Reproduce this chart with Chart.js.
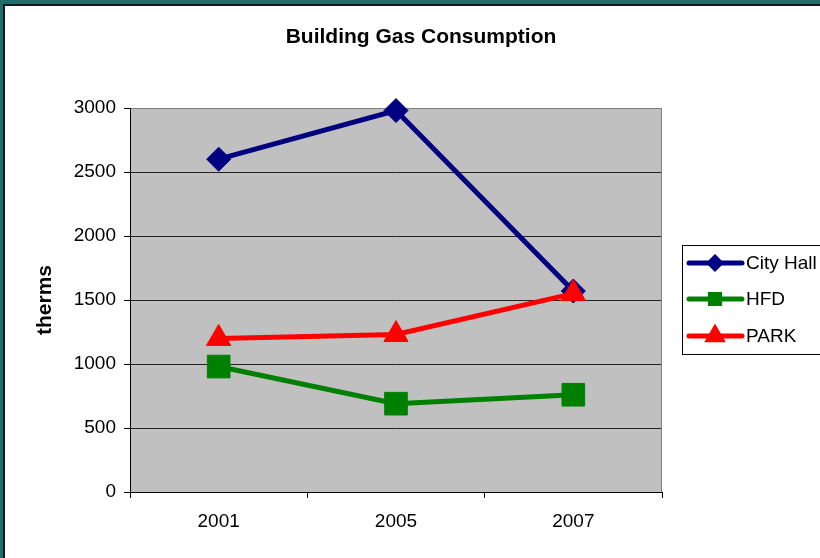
<!DOCTYPE html>
<html>
<head>
<meta charset="utf-8">
<title>Building Gas Consumption</title>
<script src="https://cdn.jsdelivr.net/npm/chart.js@4.4.0/dist/chart.umd.min.js"></script>
<style>
  html, body { margin: 0; padding: 0; background: #fff; }
  #frame { position: relative; width: 820px; height: 558px; background: #1f6e6b; overflow: hidden; }
  #paper { position: absolute; left: 3px; top: 4px; right: -10px; bottom: -10px;
           background: #fff; border-left: 2px solid #0b1a1a; border-top: 2px solid #0b1a1a; }
  #chart { position: absolute; left: 0; top: 0; }
</style>
</head>
<body>
<div id="frame">
  <div id="paper"></div>
  <canvas id="chart" width="820" height="558"></canvas>
</div>
<script>
// Chart data
const chartTitle = 'Building Gas Consumption';
const years = ['2001', '2005', '2007'];
const cityHall = [2600, 2980, 1570];
const hfd = [980, 690, 760];
const park = [1200, 1230, 1550];

const yMin = 0;
const yMax = 3000;
const yStep = 500;

const FONT = "'Liberation Sans', Arial, sans-serif";
Chart.defaults.font.family = FONT;
Chart.defaults.color = '#000';

/**
 * Gray plot background plus the thin gray frame on the right
 */
const plotBackground = {
  id: 'plotBackground',
  beforeDraw(chart) {
    const { ctx, chartArea: a } = chart;
    ctx.save();
    ctx.fillStyle = '#c0c0c0';
    ctx.fillRect(a.left, a.top, a.right - a.left, a.bottom - a.top);
    ctx.restore();
  },
  beforeDatasetsDraw(chart) {
    const { ctx, chartArea: a } = chart;
    ctx.save();
    ctx.strokeStyle = '#808080';
    ctx.lineWidth = 1;
    ctx.beginPath();
    ctx.moveTo(Math.round(a.right) - 0.5, a.top);
    ctx.lineTo(Math.round(a.right) - 0.5, a.bottom);
    ctx.stroke();
    ctx.restore();
  }
};

/**
 * Title centred on the whole page (Chart.js centres it on the padded box)
 */
const pageTitle = {
  id: 'pageTitle',
  afterDraw(chart) {
    const ctx = chart.ctx;
    ctx.save();
    ctx.fillStyle = '#000';
    ctx.font = 'bold 21px ' + FONT;
    ctx.textAlign = 'center';
    ctx.textBaseline = 'middle';
    ctx.fillText(chartTitle, 421, 37);
    ctx.restore();
  }
};

/**
 * Boxed legend with line samples, like the spreadsheet one
 */
const boxLegend = {
  id: 'boxLegend',
  afterDraw(chart) {
    const { ctx, chartArea: a } = chart;
    const left = Math.round(a.right) + 20;
    const top = 245;
    const rowY = [263, 299, 336];
    const markerSize = { rectRot: 5.5, rect: 6.5, triangle: 7.5 };

    ctx.save();
    ctx.strokeStyle = '#000';
    ctx.lineWidth = 1;
    ctx.strokeRect(left + 0.5, top + 0.5, 160, 109);

    chart.data.datasets.forEach((ds, i) => {
      const y = rowY[i];
      ctx.strokeStyle = ds.borderColor;
      ctx.lineWidth = 5;
      ctx.lineCap = 'round';
      ctx.beginPath();
      ctx.moveTo(left + 7, y);
      ctx.lineTo(left + 60, y);
      ctx.stroke();

      ctx.fillStyle = ds.pointBackgroundColor;
      ctx.strokeStyle = ds.pointBorderColor;
      Chart.helpers.drawPoint(ctx, {
        pointStyle: ds.pointStyle,
        radius: markerSize[ds.pointStyle],
        rotation: 0,
        borderWidth: 1
      }, left + 33, y);

      ctx.fillStyle = '#000';
      ctx.font = '19px ' + FONT;
      ctx.textBaseline = 'middle';
      ctx.textAlign = 'left';
      ctx.fillText(ds.label, left + 64, y + 1);
    });
    ctx.restore();
  }
};

function series(label, data, color, style, radius, order) {
  return {
    label: label,
    data: data,
    order: order,
    borderColor: color,
    backgroundColor: color,
    borderWidth: 5,
    tension: 0,
    fill: false,
    clip: false,
    pointStyle: style,
    pointRadius: radius,
    pointHoverRadius: radius,
    pointBackgroundColor: color,
    pointBorderColor: color,
    pointBorderWidth: 1
  };
}

const ctx = document.getElementById('chart').getContext('2d');
new Chart(ctx, {
  type: 'line',
  data: {
    labels: years,
    datasets: [
      // later series sit on top, as in the spreadsheet
      series('City Hall', cityHall, '#000080', 'rectRot', 12, 2),
      series('HFD', hfd, '#008000', 'rect', 16, 1),
      series('PARK', park, '#ff0000', 'triangle', 14, 0)
    ]
  },
  options: {
    responsive: false,
    devicePixelRatio: 1,
    animation: false,
    events: [],
    layout: {
      padding: { left: 33, right: 158, top: 108, bottom: 0 }
    },
    plugins: {
      legend: { display: false },
      tooltip: { enabled: false },
      title: { display: false }
    },
    scales: {
      x: {
        offset: true,
        afterFit(scale) { scale.height = 66; },
        border: { display: true, color: '#000', width: 1 },
        grid: {
          offset: true,
          drawOnChartArea: false,
          drawTicks: true,
          tickLength: 6,
          color: '#000'
        },
        ticks: {
          color: '#000',
          font: { size: 19 },
          padding: 12,
          maxRotation: 0
        }
      },
      y: {
        min: yMin,
        max: yMax,
        afterFit(scale) { scale.width = 97; },
        border: { display: true, color: '#000', width: 1 },
        grid: {
          color: (c) => (c.tick && c.tick.value === yMax ? '#808080' : '#222'),
          tickColor: '#000',
          lineWidth: 1,
          drawTicks: true,
          tickLength: 6
        },
        ticks: {
          stepSize: yStep,
          color: '#000',
          font: { size: 19 },
          padding: 8,
          callback: (value) => String(value)
        },
        title: {
          display: true,
          text: 'therms',
          color: '#000',
          font: { size: 21, weight: 'bold' },
          padding: 0
        }
      }
    }
  },
  plugins: [plotBackground, pageTitle, boxLegend]
});
</script>
</body>
</html>
